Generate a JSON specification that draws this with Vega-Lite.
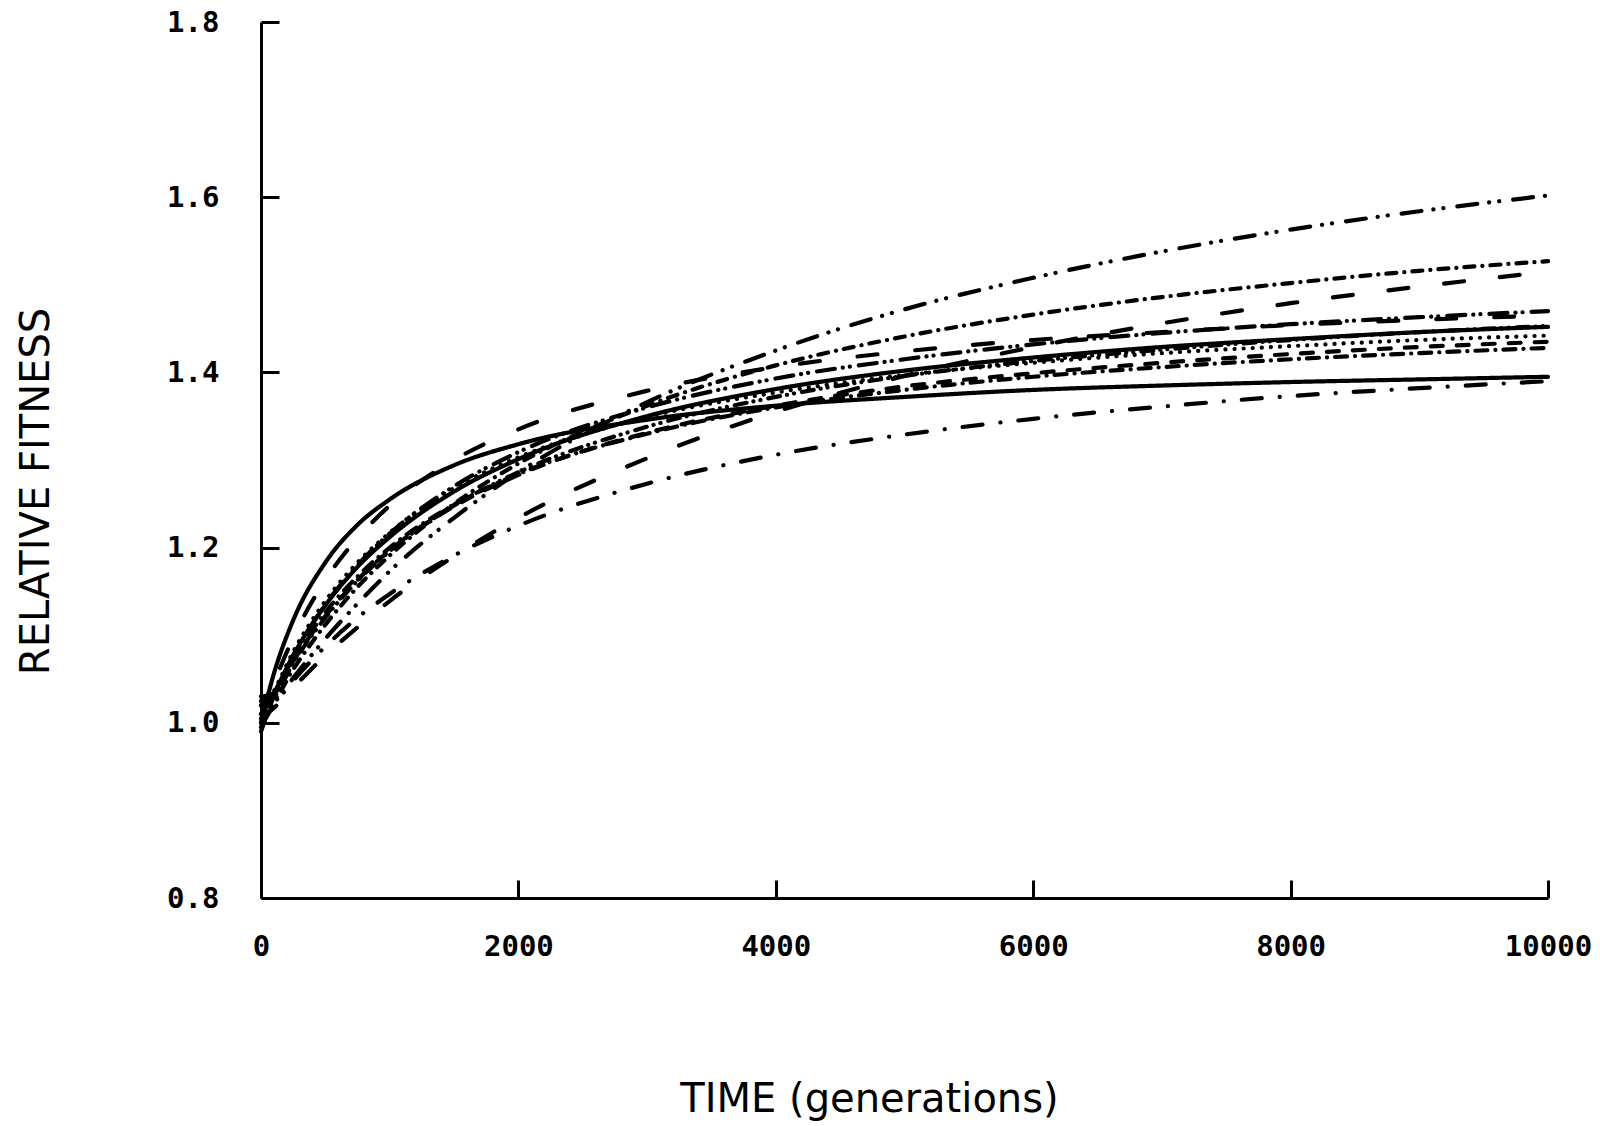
{
  "$schema": "https://vega.github.io/schema/vega-lite/v6.json",
  "width": 1287,
  "height": 876,
  "autosize": {"type": "none"},
  "padding": {"left": 261, "top": 22, "right": 52, "bottom": 228},
  "background": "white",
  "config": {"view": {"stroke": null}},
  "data": {"values": [
    {"p":"S1","t":0,"w":1.0},{"p":"S1","t":100,"w":1.056},{"p":"S1","t":250,"w":1.117},{"p":"S1","t":500,"w":1.183},{"p":"S1","t":750,"w":1.226},{"p":"S1","t":1000,"w":1.255},{"p":"S1","t":1500,"w":1.294},{"p":"S1","t":2000,"w":1.318},{"p":"S1","t":3000,"w":1.346},{"p":"S1","t":4000,"w":1.362},{"p":"S1","t":5000,"w":1.372},{"p":"S1","t":6000,"w":1.380},{"p":"S1","t":7000,"w":1.385},{"p":"S1","t":8000,"w":1.389},{"p":"S1","t":9000,"w":1.392},{"p":"S1","t":10000,"w":1.395},
    {"p":"S2","t":0,"w":1.01},{"p":"S2","t":100,"w":1.034},{"p":"S2","t":250,"w":1.077},{"p":"S2","t":500,"w":1.134},{"p":"S2","t":750,"w":1.178},{"p":"S2","t":1000,"w":1.212},{"p":"S2","t":1500,"w":1.264},{"p":"S2","t":2000,"w":1.301},{"p":"S2","t":3000,"w":1.350},{"p":"S2","t":4000,"w":1.381},{"p":"S2","t":5000,"w":1.402},{"p":"S2","t":6000,"w":1.417},{"p":"S2","t":7000,"w":1.429},{"p":"S2","t":8000,"w":1.438},{"p":"S2","t":9000,"w":1.446},{"p":"S2","t":10000,"w":1.452},
    {"p":"A","t":0,"w":0.995},{"p":"A","t":100,"w":1.021},{"p":"A","t":250,"w":1.051},{"p":"A","t":500,"w":1.096},{"p":"A","t":750,"w":1.136},{"p":"A","t":1000,"w":1.173},{"p":"A","t":1500,"w":1.234},{"p":"A","t":2000,"w":1.286},{"p":"A","t":3000,"w":1.366},{"p":"A","t":4000,"w":1.425},{"p":"A","t":5000,"w":1.472},{"p":"A","t":6000,"w":1.508},{"p":"A","t":7000,"w":1.538},{"p":"A","t":8000,"w":1.563},{"p":"A","t":9000,"w":1.584},{"p":"A","t":10000,"w":1.602},
    {"p":"B","t":0,"w":1.02},{"p":"B","t":100,"w":1.026},{"p":"B","t":250,"w":1.061},{"p":"B","t":500,"w":1.112},{"p":"B","t":750,"w":1.155},{"p":"B","t":1000,"w":1.191},{"p":"B","t":1500,"w":1.250},{"p":"B","t":2000,"w":1.296},{"p":"B","t":3000,"w":1.362},{"p":"B","t":4000,"w":1.408},{"p":"B","t":5000,"w":1.441},{"p":"B","t":6000,"w":1.466},{"p":"B","t":7000,"w":1.486},{"p":"B","t":8000,"w":1.502},{"p":"B","t":9000,"w":1.516},{"p":"B","t":10000,"w":1.527},
    {"p":"L3","t":0,"w":1.005},{"p":"L3","t":100,"w":1.017},{"p":"L3","t":250,"w":1.040},{"p":"L3","t":500,"w":1.077},{"p":"L3","t":750,"w":1.109},{"p":"L3","t":1000,"w":1.139},{"p":"L3","t":1500,"w":1.190},{"p":"L3","t":2000,"w":1.234},{"p":"L3","t":3000,"w":1.302},{"p":"L3","t":4000,"w":1.355},{"p":"L3","t":5000,"w":1.396},{"p":"L3","t":6000,"w":1.429},{"p":"L3","t":7000,"w":1.456},{"p":"L3","t":8000,"w":1.479},{"p":"L3","t":9000,"w":1.498},{"p":"L3","t":10000,"w":1.515},
    {"p":"C2","t":0,"w":1.0},{"p":"C2","t":100,"w":1.044},{"p":"C2","t":250,"w":1.097},{"p":"C2","t":500,"w":1.163},{"p":"C2","t":750,"w":1.211},{"p":"C2","t":1000,"w":1.248},{"p":"C2","t":1500,"w":1.300},{"p":"C2","t":2000,"w":1.335},{"p":"C2","t":3000,"w":1.379},{"p":"C2","t":4000,"w":1.406},{"p":"C2","t":5000,"w":1.424},{"p":"C2","t":6000,"w":1.437},{"p":"C2","t":7000,"w":1.446},{"p":"C2","t":8000,"w":1.454},{"p":"C2","t":9000,"w":1.460},{"p":"C2","t":10000,"w":1.465},
    {"p":"C3","t":0,"w":1.03},{"p":"C3","t":100,"w":1.034},{"p":"C3","t":250,"w":1.077},{"p":"C3","t":500,"w":1.135},{"p":"C3","t":750,"w":1.180},{"p":"C3","t":1000,"w":1.216},{"p":"C3","t":1500,"w":1.270},{"p":"C3","t":2000,"w":1.309},{"p":"C3","t":3000,"w":1.360},{"p":"C3","t":4000,"w":1.393},{"p":"C3","t":5000,"w":1.415},{"p":"C3","t":6000,"w":1.432},{"p":"C3","t":7000,"w":1.445},{"p":"C3","t":8000,"w":1.455},{"p":"C3","t":9000,"w":1.463},{"p":"C3","t":10000,"w":1.470},
    {"p":"D1","t":0,"w":0.99},{"p":"D1","t":100,"w":1.030},{"p":"D1","t":250,"w":1.070},{"p":"D1","t":500,"w":1.122},{"p":"D1","t":750,"w":1.163},{"p":"D1","t":1000,"w":1.197},{"p":"D1","t":1500,"w":1.247},{"p":"D1","t":2000,"w":1.283},{"p":"D1","t":3000,"w":1.331},{"p":"D1","t":4000,"w":1.362},{"p":"D1","t":5000,"w":1.384},{"p":"D1","t":6000,"w":1.399},{"p":"D1","t":7000,"w":1.411},{"p":"D1","t":8000,"w":1.421},{"p":"D1","t":9000,"w":1.429},{"p":"D1","t":10000,"w":1.435},
    {"p":"D2","t":0,"w":1.025},{"p":"D2","t":100,"w":1.032},{"p":"D2","t":250,"w":1.072},{"p":"D2","t":500,"w":1.126},{"p":"D2","t":750,"w":1.167},{"p":"D2","t":1000,"w":1.200},{"p":"D2","t":1500,"w":1.249},{"p":"D2","t":2000,"w":1.284},{"p":"D2","t":3000,"w":1.330},{"p":"D2","t":4000,"w":1.360},{"p":"D2","t":5000,"w":1.380},{"p":"D2","t":6000,"w":1.395},{"p":"D2","t":7000,"w":1.406},{"p":"D2","t":8000,"w":1.415},{"p":"D2","t":9000,"w":1.422},{"p":"D2","t":10000,"w":1.428},
    {"p":"F","t":0,"w":1.01},{"p":"F","t":100,"w":1.036},{"p":"F","t":250,"w":1.081},{"p":"F","t":500,"w":1.139},{"p":"F","t":750,"w":1.183},{"p":"F","t":1000,"w":1.217},{"p":"F","t":1500,"w":1.268},{"p":"F","t":2000,"w":1.303},{"p":"F","t":3000,"w":1.349},{"p":"F","t":4000,"w":1.377},{"p":"F","t":5000,"w":1.397},{"p":"F","t":6000,"w":1.411},{"p":"F","t":7000,"w":1.422},{"p":"F","t":8000,"w":1.430},{"p":"F","t":9000,"w":1.437},{"p":"F","t":10000,"w":1.442},
    {"p":"G","t":0,"w":1.02},{"p":"G","t":100,"w":1.029},{"p":"G","t":250,"w":1.068},{"p":"G","t":500,"w":1.120},{"p":"G","t":750,"w":1.162},{"p":"G","t":1000,"w":1.196},{"p":"G","t":1500,"w":1.248},{"p":"G","t":2000,"w":1.286},{"p":"G","t":3000,"w":1.338},{"p":"G","t":4000,"w":1.372},{"p":"G","t":5000,"w":1.396},{"p":"G","t":6000,"w":1.413},{"p":"G","t":7000,"w":1.426},{"p":"G","t":8000,"w":1.437},{"p":"G","t":9000,"w":1.446},{"p":"G","t":10000,"w":1.453},
    {"p":"L12","t":0,"w":1.0},{"p":"L12","t":100,"w":1.020},{"p":"L12","t":250,"w":1.048},{"p":"L12","t":500,"w":1.087},{"p":"L12","t":750,"w":1.120},{"p":"L12","t":1000,"w":1.147},{"p":"L12","t":1500,"w":1.191},{"p":"L12","t":2000,"w":1.225},{"p":"L12","t":3000,"w":1.273},{"p":"L12","t":4000,"w":1.306},{"p":"L12","t":5000,"w":1.329},{"p":"L12","t":6000,"w":1.347},{"p":"L12","t":7000,"w":1.361},{"p":"L12","t":8000,"w":1.373},{"p":"L12","t":9000,"w":1.382},{"p":"L12","t":10000,"w":1.390}
  ]},
  "mark": {"type": "line", "color": "black", "strokeWidth": 4.2, "strokeCap": "round", "interpolate": "monotone"},
  "encoding": {
    "x": {
      "field": "t", "type": "quantitative",
      "scale": {"domain": [0, 10000], "nice": false, "zero": false},
      "axis": {
        "title": "TIME (generations)",
        "values": [0, 2000, 4000, 6000, 8000, 10000],
        "format": "d",
        "grid": false,
        "domainColor": "black", "domainWidth": 3,
        "tickColor": "black", "tickWidth": 3, "tickSize": -18,
        "labelPadding": 66, "labelBaseline": "middle",
        "labelFont": "DejaVu Sans Mono", "labelFontWeight": "bold", "labelFontSize": 29, "labelColor": "black",
        "labelFlush": false, "labelOverlap": false,
        "titleFont": "DejaVu Sans", "titleFontWeight": "normal", "titleFontSize": 40, "titleColor": "black",
        "titleX": 608, "titleY": 201, "titleBaseline": "middle", "titleAlign": "center"
      }
    },
    "y": {
      "field": "w", "type": "quantitative",
      "scale": {"domain": [0.8, 1.8], "nice": false, "zero": false},
      "axis": {
        "title": "RELATIVE FITNESS",
        "values": [0.8, 1.0, 1.2, 1.4, 1.6, 1.8],
        "format": ".1f",
        "grid": false,
        "domainColor": "black", "domainWidth": 3,
        "tickColor": "black", "tickWidth": 3, "tickSize": -18,
        "labelPadding": 60, "labelBaseline": "middle", "labelAlign": "right",
        "labelFont": "DejaVu Sans Mono", "labelFontWeight": "bold", "labelFontSize": 29, "labelColor": "black",
        "labelFlush": false, "labelOverlap": false,
        "titleFont": "DejaVu Sans", "titleFontWeight": "normal", "titleFontSize": 40, "titleColor": "black",
        "titleX": -225, "titleY": 469, "titleBaseline": "middle", "titleAlign": "center", "titleAngle": -90
      }
    },
    "detail": {"field": "p", "type": "nominal"},
    "strokeDash": {
      "field": "p", "type": "nominal", "legend": null,
      "scale": {
        "domain": ["S1","S2","A","B","L3","C2","C3","D1","D2","F","G","L12"],
        "range": [[1,0],[1,0],[20,12,0.1,10,0.1,14],[10,8,0.1,8],[20,36],[20,38],[18,8,0.1,7,0.1,9],[12,14],[12,8,0.1,8],[0.1,9],[12,7,0.1,7,0.1,8],[20,18,0.1,18]]
      }
    }
  }
}
